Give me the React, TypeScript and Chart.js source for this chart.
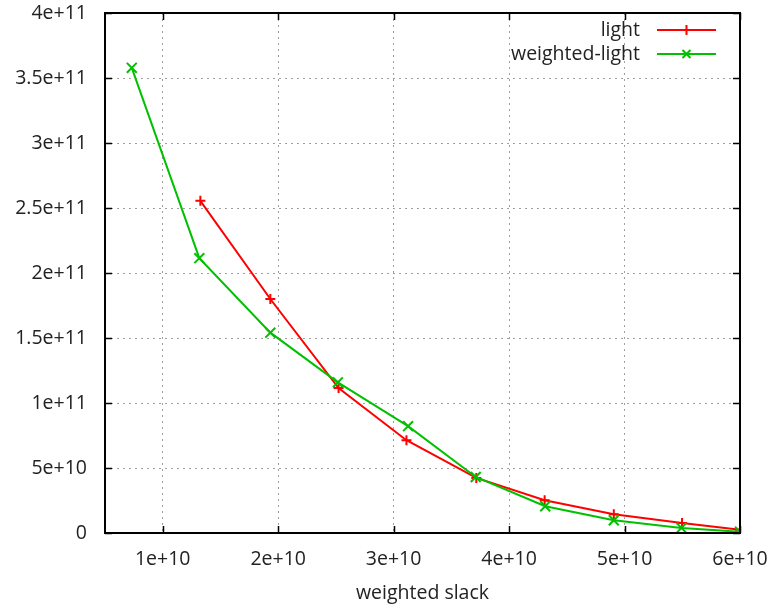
import React, { useEffect, useRef } from "react";
import { Chart, registerables } from "chart.js";

Chart.register(...registerables);

const lightX = [1.326e10, 1.932e10, 2.523e10, 3.111e10, 3.716e10, 4.308e10, 4.907e10, 5.498e10, 6.0e10];
const lightY = [2.555e11, 1.8e11, 1.115e11, 7.14e10, 4.24e10, 2.52e10, 1.44e10, 7.7e9, 2.5e9];
const weightedX = [0.732e10, 1.317e10, 1.932e10, 2.517e10, 3.125e10, 3.711e10, 4.313e10, 4.907e10, 5.493e10, 6.0e10];
const weightedY = [3.578e11, 2.114e11, 1.541e11, 1.159e11, 8.22e10, 4.31e10, 2.06e10, 9.8e9, 3.9e9, 1.0e9];

const xTickValues = [1e10, 2e10, 3e10, 4e10, 5e10, 6e10];
const xTickLabels = ["1e+10", "2e+10", "3e+10", "4e+10", "5e+10", "6e+10"];
const yTickValues = [0, 5e10, 1e11, 1.5e11, 2e11, 2.5e11, 3e11, 3.5e11, 4e11];
const yTickLabels = ["0", "5e+10", "1e+11", "1.5e+11", "2e+11", "2.5e+11", "3e+11", "3.5e+11", "4e+11"];

const seriesNames = ["light", "weighted-light"];
const xTitle = "weighted slack";

const RED = "#ff0000";
const GREEN = "#00c000";
const FONT_FAMILY = "'Open Sans', sans-serif";
const FONT_SIZE = 19.5;
const TEXT_COLOR = "#222";

const framePlugin = {
  id: "gnuplotFrame",
  afterDraw(chart: any) {
    const { ctx, chartArea } = chart;
    const { left, right, top, bottom } = chartArea;
    const xs = chart.scales.x;
    const ys = chart.scales.y;
    ctx.save();
    ctx.strokeStyle = "#000";
    ctx.lineWidth = 2;
    ctx.strokeRect(left, top, right - left, bottom - top);
    ctx.lineWidth = 1.5;
    const tl = 7;
    ctx.beginPath();
    xTickValues.forEach((v) => {
      const px = Math.round(xs.getPixelForValue(v)) + 0.5;
      ctx.moveTo(px, bottom);
      ctx.lineTo(px, bottom - tl);
      ctx.moveTo(px, top);
      ctx.lineTo(px, top + tl);
    });
    yTickValues.forEach((v) => {
      const py = Math.round(ys.getPixelForValue(v)) + 0.5;
      ctx.moveTo(left, py);
      ctx.lineTo(left + tl, py);
      ctx.moveTo(right, py);
      ctx.lineTo(right - tl, py);
    });
    ctx.stroke();
    ctx.fillStyle = TEXT_COLOR;
    ctx.font = `${FONT_SIZE}px ${FONT_FAMILY}`;
    ctx.textAlign = "center";
    ctx.textBaseline = "middle";
    ctx.fillText(xTitle, (left + right) / 2, 593);
    const colors = [RED, GREEN];
    const styles = ["plus", "x"];
    seriesNames.forEach((name, i) => {
      const y = 30 + i * 24;
      ctx.fillStyle = TEXT_COLOR;
      ctx.textAlign = "right";
      ctx.fillText(name, 640, y);
      ctx.strokeStyle = colors[i];
      ctx.lineWidth = 2;
      ctx.beginPath();
      ctx.moveTo(657, y);
      ctx.lineTo(716, y);
      const cx = 686.5;
      if (styles[i] === "plus") {
        ctx.moveTo(cx, y - 5);
        ctx.lineTo(cx, y + 5);
      } else {
        const d = 4;
        ctx.moveTo(cx - d, y - d);
        ctx.lineTo(cx + d, y + d);
        ctx.moveTo(cx - d, y + d);
        ctx.lineTo(cx + d, y - d);
      }
      ctx.stroke();
    });
    ctx.restore();
  },
};

export default function App() {
  const ref = useRef<HTMLCanvasElement | null>(null);
  useEffect(() => {
    if (!ref.current) return;
    const chart = new Chart(ref.current, {
      type: "scatter",
      data: {
        datasets: [
          {
            label: seriesNames[0],
            data: lightX.map((x, i) => ({ x, y: lightY[i] })),
            showLine: true,
            borderColor: RED,
            backgroundColor: RED,
            borderWidth: 2,
            pointStyle: "cross",
            pointRadius: 5,
            pointBorderWidth: 2,
            order: 2,
          },
          {
            label: seriesNames[1],
            data: weightedX.map((x, i) => ({ x, y: weightedY[i] })),
            showLine: true,
            borderColor: GREEN,
            backgroundColor: GREEN,
            borderWidth: 2,
            pointStyle: "crossRot",
            pointRadius: 7,
            pointBorderWidth: 2,
            order: 1,
          },
        ],
      },
      options: {
        animation: false,
        responsive: false,
        devicePixelRatio: 1,
        layout: { padding: { top: 13, right: 33, left: 0, bottom: 0 } },
        plugins: {
          legend: { display: false },
          tooltip: { enabled: false },
        },
        scales: {
          x: {
            type: "linear",
            min: 5e9,
            max: 6e10,
            afterBuildTicks: (s: any) => {
              s.ticks = xTickValues.map((v) => ({ value: v }));
            },
            afterFit: (s: any) => {
              s.height = 78;
              s.paddingLeft = 0;
              s.paddingRight = 0;
            },
            ticks: {
              callback: (v: any) => {
                const i = xTickValues.indexOf(Number(v));
                return i >= 0 ? xTickLabels[i] : "";
              },
              padding: 15,
              color: TEXT_COLOR,
              font: { family: FONT_FAMILY, size: FONT_SIZE },
              maxRotation: 0,
            },
            grid: { color: "#a0a0a0", lineWidth: 1, drawTicks: false },
            border: { display: false, dash: [2, 4] },
          },
          y: {
            type: "linear",
            min: 0,
            max: 4e11,
            afterBuildTicks: (s: any) => {
              s.ticks = yTickValues.map((v) => ({ value: v }));
            },
            afterFit: (s: any) => {
              s.width = 105;
              s.paddingTop = 0;
              s.paddingBottom = 0;
            },
            ticks: {
              callback: (v: any) => {
                const i = yTickValues.indexOf(Number(v));
                return i >= 0 ? yTickLabels[i] : "";
              },
              padding: 18,
              color: TEXT_COLOR,
              font: { family: FONT_FAMILY, size: FONT_SIZE },
            },
            grid: { color: "#a0a0a0", lineWidth: 1, drawTicks: false },
            border: { display: false, dash: [2, 4] },
          },
        },
      },
      plugins: [framePlugin],
    });
    return () => chart.destroy();
  }, []);
  return (
    <div style={{ position: "absolute", left: 0, top: 0, width: 773, height: 611, background: "#fff" }}>
      <canvas ref={ref} width={773} height={611} />
    </div>
  );
}
